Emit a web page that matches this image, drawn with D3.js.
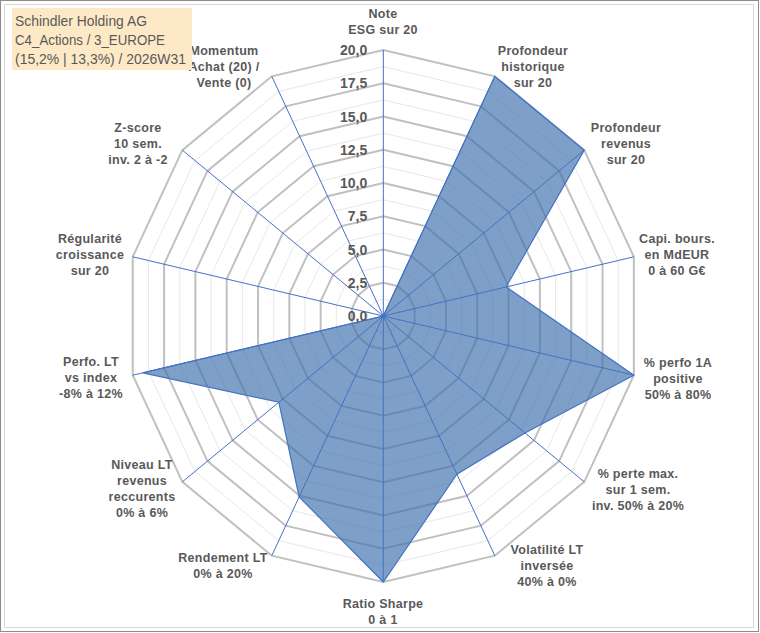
<!DOCTYPE html>
<html>
<head>
<meta charset="utf-8">
<script src="https://cdn.jsdelivr.net/npm/d3@7"></script>
<style>
  body { margin: 0; background: #fff; }
  text { font-family: "Liberation Sans", Arial, sans-serif; }
</style>
</head>
<body>
<div id="chart-area"></div>
<script>
// axes, clockwise from the top
const categories = [
    ["Note", "ESG sur 20"],
    ["Profondeur", "historique", "sur 20"],
    ["Profondeur", "revenus", "sur 20"],
    ["Capi. bours.", "en MdEUR", "0 à 60 G€"],
    ["% perfo 1A", "positive", "50% à 80%"],
    ["% perte max.", "sur 1 sem.", "inv. 50% à 20%"],
    ["Volatilité LT", "inversée", "40% à 0%"],
    ["Ratio Sharpe", "0 à 1"],
    ["Rendement LT", "0% à 20%"],
    ["Niveau LT", "revenus", "reccurents", "0% à 6%"],
    ["Perfo. LT", "vs index", "-8% à 12%"],
    ["Régularité", "croissance", "sur 20"],
    ["Z-score", "10 sem.", "inv. 2 à -2"],
    ["Momentum", "Achat (20) /", "Vente (0)"]
];
const values = [0, 20, 20, 9.8, 20, 14.1, 13.2, 20, 15.1, 10.4, 19.2, 0, 0, 0];
const ticks = [0, 2.5, 5, 7.5, 10, 12.5, 15, 17.5, 20];
const minorTicks = [1.25, 3.75, 6.25, 8.75, 11.25, 13.75, 16.25, 18.75];
const titleLines = ["Schindler Holding AG", "C4_Actions / 3_EUROPE", "(15,2% | 13,3%) / 2026W31"];
const titleWidths = [132, 150, 171];

const width = 760;
const height = 633;
const cx = 383.3, cy = 316;

const svg = d3.select("#chart-area")
    .append("svg")
    .attr("width", width)
    .attr("height", height);

// cadres
svg.append("rect").attr("x", 0.5).attr("y", 0.5).attr("width", 758).attr("height", 631)
    .attr("fill", "#fff").attr("stroke", "#8c8c8c");
svg.append("rect").attr("x", 4.5).attr("y", 4.5).attr("width", 749).attr("height", 623)
    .attr("fill", "none").attr("stroke", "#d9d9d9");

// echelles
const angle = d3.scaleLinear().domain([0, categories.length]).range([0, 2 * Math.PI]);
const rx = d3.scaleLinear().domain([0, 20]).range([0, 257]);
const ry = d3.scaleLinear().domain([0, 20]).range([0, 266]);

const px = (i, v) => cx + rx(v) * Math.sin(angle(i));
const py = (i, v) => cy - ry(v) * Math.cos(angle(i));

const ring = v => categories.map((c, i) => [px(i, v), py(i, v)]);
const closed = d3.line().curve(d3.curveLinearClosed);

// grilles secondaires
svg.selectAll(".minor")
    .data(minorTicks)
    .enter()
    .append("path")
    .attr("class", "minor")
    .attr("d", d => closed(ring(d)))
    .attr("fill", "none")
    .attr("stroke", "#e8e8e8")
    .attr("stroke-width", 1);

// grilles principales
svg.selectAll(".major")
    .data(ticks.slice(1))
    .enter()
    .append("path")
    .attr("class", "major")
    .attr("d", d => closed(ring(d)))
    .attr("fill", "none")
    .attr("stroke", "#c0c0c0")
    .attr("stroke-width", 2);

// serie
svg.append("path")
    .attr("d", closed(values.map((v, i) => [px(i, v), py(i, v)])))
    .attr("fill", "#3a6dab")
    .attr("fill-opacity", 0.66)
    .attr("stroke", "#4472c4")
    .attr("stroke-width", 1.2);

// rayons
svg.selectAll(".spoke")
    .data(categories)
    .enter()
    .append("line")
    .attr("class", "spoke")
    .attr("x1", cx).attr("y1", cy)
    .attr("x2", (d, i) => px(i, 20))
    .attr("y2", (d, i) => py(i, 20))
    .attr("stroke", "#4472c4")
    .attr("stroke-width", 1);

// graduations
svg.selectAll(".tick")
    .data(ticks)
    .enter()
    .append("text")
    .attr("class", "tick")
    .attr("x", cx - 16)
    .attr("y", d => cy - ry(d))
    .attr("dy", "0.36em")
    .attr("text-anchor", "end")
    .attr("font-size", 14)
    .attr("font-weight", "bold")
    .attr("fill", "#595959")
    .text(d => d3.format(".1f")(d).replace(".", ","));

// libelles des axes
const labelPos = [
    [383, 13], [533, 50], [626, 127], [677, 238], [678, 362], [638, 473], [547, 549],
    [383, 603], [223, 557], [142, 464], [91, 361], [90, 238], [138, 127], [224, 50]
];
const lbl = svg.selectAll(".lbl")
    .data(categories)
    .enter()
    .append("text")
    .attr("class", "lbl")
    .attr("text-anchor", "middle")
    .attr("font-size", 12.5)
    .attr("font-weight", "bold")
    .attr("fill", "#595959")
    .attr("letter-spacing", 0.3);
lbl.each(function(d, i) {
    d3.select(this).selectAll("tspan")
        .data(d)
        .enter()
        .append("tspan")
        .attr("x", labelPos[i][0])
        .attr("y", (t, j) => labelPos[i][1] + j * 16.3)
        .attr("dy", "0.36em")
        .text(t => t);
});

// titre
svg.append("rect")
    .attr("x", 12).attr("y", 8).attr("width", 180).attr("height", 62)
    .attr("fill", "#fde9c6");
svg.selectAll(".title")
    .data(titleLines)
    .enter()
    .append("text")
    .attr("class", "title")
    .attr("x", 15)
    .attr("y", (d, i) => 26 + i * 19)
    .attr("font-family", "Lato, 'Open Sans', sans-serif")
    .attr("font-size", 15)
    .attr("fill", "#595959")
    .attr("textLength", (d, i) => titleWidths[i])
    .attr("lengthAdjust", "spacingAndGlyphs")
    .text(d => d);
</script>
</body>
</html>
